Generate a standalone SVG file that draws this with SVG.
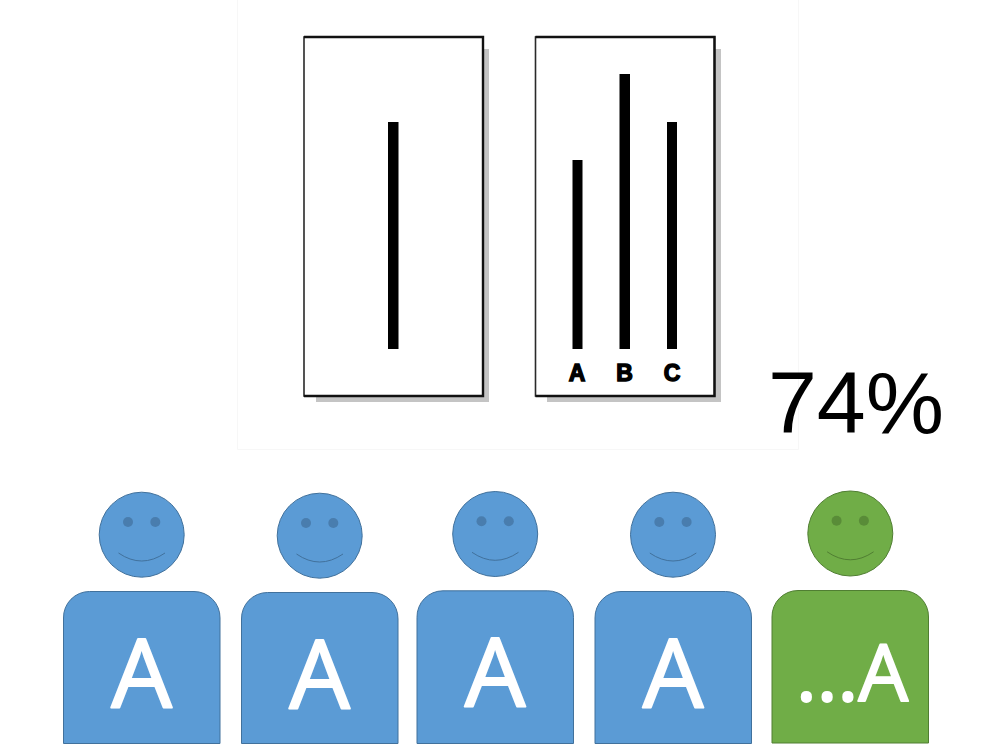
<svg xmlns="http://www.w3.org/2000/svg" width="992" height="744" viewBox="0 0 992 744">
<style>
.b{fill:#5b9bd5;stroke:#41719c;stroke-width:1}
.g{fill:#70ad47;stroke:#507e32;stroke-width:1}
.eb{fill:#41719c;fill-opacity:.7}
.eg{fill:#507e32;fill-opacity:.7}
.mb{fill:none;stroke:#41719c;stroke-width:1}
.mg{fill:none;stroke:#507e32;stroke-width:1}
.t{font-family:"Open Sans","Noto Sans",sans-serif;fill:#fff;stroke:#fff;stroke-width:2;stroke-linejoin:round;text-anchor:middle}
.card{fill:#fff;stroke:#2a2a2a;stroke-width:1.6}
.edge{fill:none;stroke:#111;stroke-width:2.4}
.sh{fill:#c4c4c4}
.bar{fill:#000}
.l{font-family:"Liberation Sans",Arial,sans-serif;font-weight:bold;font-size:23px;fill:#000;text-anchor:middle;stroke:#000;stroke-width:1.4}
</style>
<rect width="992" height="744" fill="#fff"/>
<path d="M237.500 0V449.500H798.500V0" fill="none" stroke="#f7f7f7" stroke-width="1"/>
<g id="card-left">
<rect class="sh" x="316" y="49" width="173" height="353"/>
<rect class="card" x="304" y="37" width="179" height="359"/>
<path class="edge" d="M304 396H483V37H304"/>
<rect class="bar" x="388" y="122" width="10.500" height="227"/>
</g>
<g id="card-right">
<rect class="sh" x="547" y="49" width="174" height="353"/>
<rect class="card" x="535.500" y="37" width="179" height="359"/>
<path class="edge" d="M535.500 396H714.500V37H535.500"/>
<rect class="bar" x="572.500" y="160" width="10" height="189"/>
<rect class="bar" x="619.500" y="74" width="10.500" height="275"/>
<rect class="bar" x="667" y="122" width="10" height="227"/>
<text class="l" x="577" y="381">A</text>
<text class="l" x="624.500" y="381">B</text>
<text class="l" x="672" y="381">C</text>
</g>
<text id="percent" x="856" y="433" font-family="Liberation Sans,Arial,sans-serif" font-size="88" text-anchor="middle" fill="#000">74%</text>
<g id="person-1">
<circle class="b" cx="141.700" cy="534.700" r="42.500"/>
<circle class="eb" cx="128" cy="522" r="5"/><circle class="eb" cx="155.300" cy="522" r="5"/>
<path class="mb" d="M118.500 553Q141.700 569 165 553"/>
<path class="b" d="M63.500 743.500V618A26 26 0 0 1 89.500 591.500H194A26 26 0 0 1 220 618V743.500Z"/>
<text class="t" x="141.700" y="708" font-size="96">A</text>
</g>
<g id="person-2">
<circle class="b" cx="319.700" cy="535.700" r="42.500"/>
<circle class="eb" cx="306" cy="523" r="5"/><circle class="eb" cx="333.300" cy="523" r="5"/>
<path class="mb" d="M296.500 554Q319.700 570 343 554"/>
<path class="b" d="M241.500 743.500V619A26 26 0 0 1 267.500 592.500H372A26 26 0 0 1 398 619V743.500Z"/>
<text class="t" x="319.700" y="709" font-size="96">A</text>
</g>
<g id="person-3">
<circle class="b" cx="495.200" cy="534" r="42.500"/>
<circle class="eb" cx="481.500" cy="521.300" r="5"/><circle class="eb" cx="508.800" cy="521.300" r="5"/>
<path class="mb" d="M472 552.300Q495.200 568.300 518.500 552.300"/>
<path class="b" d="M417 743.500V617.300A26 26 0 0 1 443 590.800H547.500A26 26 0 0 1 573.500 617.300V743.500Z"/>
<text class="t" x="495.200" y="707" font-size="96">A</text>
</g>
<g id="person-4">
<circle class="b" cx="673" cy="534.700" r="42.500"/>
<circle class="eb" cx="659.300" cy="522" r="5"/><circle class="eb" cx="686.600" cy="522" r="5"/>
<path class="mb" d="M649.800 553Q673 569 696.300 553"/>
<path class="b" d="M595 743.500V618A26 26 0 0 1 621 591.500H725.500A26 26 0 0 1 751.500 618V743.500Z"/>
<text class="t" x="673" y="708" font-size="96">A</text>
</g>
<g id="person-5">
<circle class="g" cx="850.300" cy="533.500" r="42.500"/>
<circle class="eg" cx="836.600" cy="520.800" r="5"/><circle class="eg" cx="863.900" cy="520.800" r="5"/>
<path class="mg" d="M827.100 551.800Q850.300 567.800 873.600 551.800"/>
<path class="g" d="M772 743V617A26 26 0 0 1 798 590.500H902.500A26 26 0 0 1 928.500 617V743Z"/>
<text class="t" x="852" y="701" font-size="79">...A</text>
</g>
</svg>
